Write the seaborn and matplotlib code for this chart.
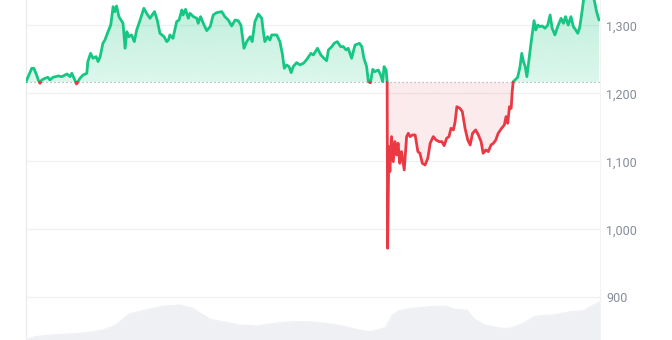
import numpy as np
import pandas as pd
import matplotlib
matplotlib.use("Agg")
import matplotlib.pyplot as plt
import seaborn as sns
from matplotlib.ticker import FuncFormatter
from matplotlib.path import Path

# ---- data (hours over 7 days, price in USD) ----
hours = [0.0, 1.7, 2.3, 3.1, 3.6, 4.1, 4.6, 5.6, 6.4, 7.0, 7.9, 9.4, 10.5, 12.0, 12.9, 13.4,
         14.3, 14.8, 15.8, 16.7, 17.8, 18.1, 18.9, 19.6, 20.5, 21.1, 21.7, 22.5, 23.1, 24.0,
         24.8, 25.5, 26.0, 26.5, 27.2, 27.8, 28.4, 29.0, 29.5, 30.1, 30.9, 31.7, 32.4, 33.4,
         34.5, 35.3, 36.3, 37.6, 38.4, 39.2, 40.4, 41.2, 41.7, 42.1, 43.0, 44.1, 44.8, 45.6,
         46.0, 46.7, 47.5, 48.0, 49.0, 50.0, 50.4, 51.1, 51.9, 52.9, 53.9, 54.8, 55.8, 57.3,
         58.2, 59.2, 60.2, 61.2, 62.1, 62.9, 63.8, 64.6, 65.6, 66.2, 67.0, 68.0, 69.0, 69.4,
         69.9, 70.7, 71.4, 71.9, 73.4, 74.3, 75.0, 75.6, 76.3, 77.0, 77.6, 78.2, 79.2, 80.2,
         81.2, 82.2, 83.4, 84.1, 85.3, 86.3, 87.2, 88.0, 88.5, 89.5, 90.2, 91.1, 92.1, 92.9,
         93.7, 94.3, 95.3, 96.3, 97.6, 98.3, 98.9, 99.7, 100.2, 100.8, 101.5, 102.1, 103.1,
         103.8, 104.4, 104.8, 105.4, 105.7, 105.85, 106.2, 106.5, 107.0, 107.5, 108.0, 108.5,
         108.9, 109.4, 109.9, 110.7, 111.4, 111.9, 112.4, 113.1, 113.9, 114.7, 115.3, 116.0,
         116.8, 117.6, 118.3, 119.2, 120.0, 120.9, 121.7, 122.4, 123.1, 123.8, 124.4, 125.1,
         125.6, 126.1, 127.0, 127.7, 128.5, 129.3, 130.0, 130.7, 131.6, 132.4, 133.2, 133.8,
         134.6, 135.3, 136.1, 136.8, 137.5, 138.2, 139.2, 140.0, 140.5, 141.0, 141.5, 142.0,
         142.3, 142.6, 143.1, 143.9, 144.6, 145.1, 145.6, 146.1, 146.6, 147.2, 147.8, 148.2,
         148.7, 149.2, 149.8, 150.4, 151.1, 151.9, 152.7, 153.4, 154.0, 154.8, 155.6, 156.6,
         157.3, 157.9, 158.7, 159.5, 160.2, 160.9, 161.5, 162.1, 162.8, 163.3, 164.2, 165.3,
         166.2, 167.0, 167.7]
price = [1217.1, 1236.8, 1236.8, 1227.0, 1219.6, 1214.7, 1219.6, 1222.1, 1223.5, 1219.6,
         1223.5, 1225.5, 1224.5, 1228.4, 1224.5, 1229.4, 1219.6, 1213.7, 1222.1, 1227.0,
         1229.4, 1246.6, 1258.8, 1251.5, 1253.9, 1246.6, 1253.9, 1273.5, 1278.4, 1290.6,
         1300.4, 1327.4, 1320.1, 1328.4, 1312.7, 1307.8, 1302.9, 1266.2, 1290.6, 1283.3,
         1285.8, 1276.0, 1293.1, 1307.8, 1325.0, 1317.6, 1310.3, 1320.1, 1307.8, 1288.2,
         1283.3, 1276.0, 1278.4, 1285.8, 1280.8, 1305.4, 1307.8, 1322.5, 1315.2, 1323.5,
         1310.3, 1317.6, 1312.7, 1310.3, 1302.9, 1312.7, 1302.9, 1292.1, 1298.0, 1315.2,
         1318.6, 1320.1, 1312.7, 1307.8, 1299.0, 1307.8, 1306.8, 1300.4, 1266.2, 1276.0,
         1283.3, 1276.0, 1305.4, 1316.6, 1310.3, 1293.1, 1276.0, 1283.3, 1278.4, 1285.8,
         1285.8, 1276.0, 1258.8, 1236.8, 1241.7, 1239.2, 1230.4, 1239.2, 1245.1, 1241.7,
         1244.1, 1250.0, 1258.8, 1256.4, 1266.2, 1256.4, 1251.5, 1248.0, 1263.7, 1268.6,
         1273.5, 1276.0, 1268.6, 1268.6, 1263.7, 1266.2, 1251.5, 1271.0, 1273.5, 1268.6,
         1251.5, 1239.2, 1217.1, 1215.7, 1235.3, 1231.8, 1234.3, 1227.0, 1217.1, 1239.2,
         1234.3, 1217.1, 972.1, 1121.6, 1084.8, 1136.3, 1099.5, 1128.9, 1109.3, 1126.5,
         1097.1, 1114.2, 1087.3, 1136.3, 1141.2, 1136.3, 1138.7, 1138.7, 1114.2, 1111.8,
         1097.1, 1094.6, 1104.4, 1126.5, 1136.3, 1131.4, 1128.9, 1128.9, 1123.0, 1133.8,
         1136.3, 1148.5, 1146.1, 1158.3, 1180.3, 1177.9, 1173.0, 1148.5, 1131.4, 1124.0,
         1141.2, 1146.1, 1138.7, 1128.9, 1111.8, 1116.7, 1114.2, 1124.0, 1126.5, 1131.4,
         1141.2, 1148.5, 1153.4, 1165.7, 1155.9, 1180.3, 1177.9, 1202.4, 1217.1, 1219.6,
         1223.5, 1239.2, 1258.8, 1246.6, 1239.2, 1224.5, 1249.0, 1273.5, 1288.2, 1306.8,
         1293.1, 1300.4, 1298.0, 1299.0, 1295.6, 1300.4, 1315.2, 1295.6, 1285.8, 1298.0,
         1310.3, 1302.9, 1312.7, 1300.4, 1312.7, 1298.0, 1293.1, 1288.2, 1298.0, 1322.5,
         1342.0, 1348.0, 1345.0, 1340.0, 1320.1, 1307.8]
base_price = 1216.2

vol_hours = [0.2, 2.5, 7.4, 12.5, 17.5, 22.5, 26.3, 30.0, 35.0, 40.0, 45.1, 48.8, 53.9, 57.6,
             62.6, 67.6, 72.7, 77.7, 82.7, 87.7, 92.8, 96.5, 100.3, 102.8, 105.3, 107.2, 109.1,
             112.8, 117.8, 122.8, 125.4, 129.1, 131.0, 134.1, 139.1, 141.7, 145.4, 149.2, 154.2,
             159.2, 163.0, 166.1, 168.0]
volume = [7, 33, 50, 60, 73, 100, 150, 260, 300, 340, 350, 317, 207, 183, 150, 140, 167, 183,
          183, 167, 140, 107, 83, 100, 127, 250, 293, 317, 333, 340, 307, 300, 217, 150, 117,
          117, 167, 240, 250, 283, 293, 350, 383]

ytick_vals = [900, 1000, 1100, 1200, 1300]

GREEN = "#16c784"
RED = "#ea3943"

sns.set_theme(style="white")
plt.rcParams["font.family"] = ["Roboto", "DejaVu Sans"]

W, H = 672, 340
fig = plt.figure(figsize=(W / 100, H / 100), dpi=100)
left, right = 26 / W, 600 / W
pos = [left, 0.0, right - left, 1.0]

# volume axes (behind)
axv = fig.add_axes(pos, zorder=0)
vdf = pd.DataFrame({"t": vol_hours, "v": volume})
axv.fill_between(vdf["t"], 0, vdf["v"], color="#eef0f4", lw=0)
sns.lineplot(data=vdf, x="t", y="v", ax=axv, color="#eef0f4", lw=0.8)
axv.set_xlim(0, 168)
axv.set_ylim(0, 3400)
axv.axis("off")

# price axes
ax = fig.add_axes(pos, zorder=1)
ax.patch.set_alpha(0)
ax.set_xlim(0, 168)
ax.set_ylim(837.2, 1337.2)

t = np.asarray(hours, float)
p = np.asarray(price, float)
# add crossing points for a clean colour change
te, pe = [t[0]], [p[0]]
for i in range(1, len(t)):
    d0, d1 = p[i - 1] - base_price, p[i] - base_price
    if d0 * d1 < 0:
        f = d0 / (d0 - d1)
        te.append(t[i - 1] + f * (t[i] - t[i - 1]))
        pe.append(base_price)
    te.append(t[i]); pe.append(p[i])
te, pe = np.array(te), np.array(pe)


def grad_fill(where, color, a_far, a_near, far_val):
    poly = ax.fill_between(te, base_price, pe, where=where, interpolate=True,
                           color="none", lw=0)
    rgb = matplotlib.colors.to_rgb(color)
    n = 256
    img = np.zeros((n, 1, 4))
    img[:, 0, :3] = rgb
    if far_val > base_price:
        img[:, 0, 3] = np.linspace(a_near, a_far, n)
        ext = [0, 168, base_price, far_val]
    else:
        img[:, 0, 3] = np.linspace(a_far, a_near, n)
        ext = [0, 168, far_val, base_price]
    im = ax.imshow(img, aspect="auto", extent=ext, origin="lower", zorder=1,
                   interpolation="bilinear")
    paths = poly.get_paths()
    verts = np.concatenate([pp.vertices for pp in paths])
    codes = np.concatenate([pp.codes if pp.codes is not None else
                            np.r_[Path.MOVETO, [Path.LINETO] * (len(pp.vertices) - 1)]
                            for pp in paths])
    im.set_clip_path(Path(verts, codes), transform=ax.transData)


grad_fill(pe >= base_price, GREEN, 0.28, 0.15, 1337.2)
grad_fill(pe <= base_price, RED, 0.10, 0.10, 950)

above = np.where(pe >= base_price, pe, np.nan)
below = np.where(pe <= base_price, pe, np.nan)
ax.plot(te, above, color=GREEN, lw=2.0, zorder=4, solid_joinstyle="round")
ax.plot(te, below, color=RED, lw=2.0, zorder=4, solid_joinstyle="round")

# baseline
ax.axhline(base_price, color="#a7adb8", lw=0.9, ls=(0, (1, 2.2)), zorder=3)

# grid
for v in ytick_vals:
    ax.axhline(v, color="#eef0f3", lw=0.9, zorder=0.5)

ax.set_yticks(ytick_vals)
ax.yaxis.tick_right()
ax.yaxis.set_major_formatter(FuncFormatter(lambda v, _: f"{int(v):,}"))
ax.tick_params(axis="y", length=0, pad=4.5, labelcolor="#858c99", labelsize=9)
ax.set_xticks([])
ax.set_xlabel(""); ax.set_ylabel("")
ax.grid(False)
for s in ["top", "bottom"]:
    ax.spines[s].set_visible(False)
ax.spines["left"].set_color("#ececec")
ax.spines["left"].set_linewidth(0.9)
ax.spines["right"].set_color("#f3f3f3")
ax.spines["right"].set_linewidth(0.8)

fig.savefig("out.png", dpi=100)
